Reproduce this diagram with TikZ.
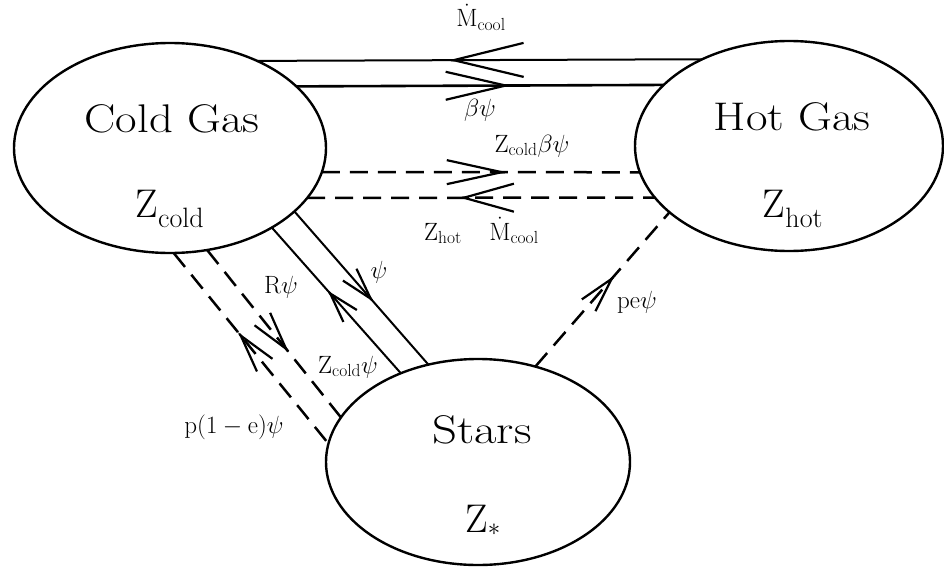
\documentclass[tikz,border=0pt]{standalone}
\usepackage{fontspec}
\usepackage{graphicx}
\usetikzlibrary{arrows.meta,calc,shapes.geometric}
\tikzset{
  ell/.style={draw, ellipse, line width=2.4pt, inner sep=0pt, outer sep=0pt},
  flow/.style={line width=2pt},
  dflow/.style={line width=2.5pt, dash pattern=on 18pt off 10pt},
  hd/.style 2 args={-{Straight Barb[length=#1pt,width=#2pt,line width=2.2pt]}, line width=2.2pt, solid},
  big/.style={anchor=base, font=\fontsize{40}{44}\selectfont, inner sep=0pt},
  lbl/.style={anchor=base, font=\fontsize{25}{28}\selectfont, inner sep=0pt},
}
\begin{document}
\begin{tikzpicture}[x=1pt,y=-1pt]
\useasboundingbox (0,0) rectangle (944,570);
% reservoirs
\node[ell, minimum width=312pt, minimum height=210pt] (cold) at (170,148) {};
\node[ell, minimum width=308pt, minimum height=210pt] (hot) at (789,146) {};
\node[ell, minimum width=304pt, minimum height=206pt] (stars) at (478,462) {};
% texts in reservoirs
\node[big] (tcold) at (172,132) {\scalebox{1.17}[1]{Cold Gas}};
\node[big] (zcold) at (170,217) {$\mathrm{Z}_{\mathrm{cold}}$};
\node[big] (thot) at (792,130) {\scalebox{1.17}[1]{Hot Gas}};
\node[big] (zhot) at (793,217) {$\mathrm{Z}_{\mathrm{hot}}$};
\node[big] (tstars) at (482,443) {\scalebox{1.22}[1]{Stars}};
\node[big] (zstars) at (483,532) {$\mathrm{Z}_{*}$};
% horizontal flows
\draw[flow] (cold.45.96) -- coordinate[pos=0.431] (t1) (hot.135.8);
\draw[hd={70}{34}] ($(t1)!2pt!(hot.135.8)$) -- (t1);
\draw[flow, line width=2.6pt] (cold.26.8) -- coordinate[pos=0.583] (t2) (hot.154.0);
\draw[hd={60}{28}] ($(t2)!2pt!(cold.26.8)$) -- (t2);
\draw[dflow] (cold.-9.4) -- coordinate[pos=0.582] (t3) (hot.190.3);
\draw[hd={55}{24}] ($(t3)!2pt!(cold.-9.4)$) -- (t3);
\draw[dflow] (cold.-20.0) -- coordinate[pos=0.439] (t4) (hot.201.2);
\draw[hd={50}{28}] ($(t4)!2pt!(hot.201.2)$) -- (t4);
% cold <-> stars
\draw[flow] (cold.-27.1) -- coordinate[pos=0.59] (ta) (stars.117.3);
\draw[hd={32}{18}] ($(ta)!2pt!(cold.-27.1)$) -- (ta);
\draw[flow] (cold.-38.5) -- coordinate[pos=0.433] (tb) (stars.131.2);
\draw[hd={30}{18}] ($(tb)!2pt!(stars.131.2)$) -- (tb);
\draw[dflow] (cold.-88.4) -- coordinate[pos=0.416] (tc) (stars.173.6);
\draw[hd={38}{20}] ($(tc)!2pt!(stars.173.6)$) -- (tc);
\draw[dflow] (cold.-70.0) -- coordinate[pos=0.61] (td) (stars.162.6);
\draw[hd={38}{20}] ($(td)!2pt!(cold.-70.0)$) -- (td);
% stars -> hot
\draw[dflow] (stars.59.6) -- coordinate[pos=0.59] (te) (hot.209.1);
\draw[hd={35}{18}] ($(te)!2pt!(stars.59.6)$) -- (te);
% flow labels
\node[lbl] (l1) at (481,27) {$\dot{\mathrm{M}}_{\mathrm{cool}}$};
\node[lbl] (l2) at (480,116) {$\beta\psi$};
\node[lbl] (l3) at (532,152) {$\mathrm{Z}_{\mathrm{cold}}\beta\psi$};
\node[lbl] (l4a) at (443,240) {$\mathrm{Z}_{\mathrm{hot}}$};
\node[lbl] (l4b) at (514,240) {$\dot{\mathrm{M}}_{\mathrm{cool}}$};
\node[lbl] (la) at (379,278) {$\psi$};
\node[lbl] (lb) at (281,293) {$\mathrm{R}\psi$};
\node[lbl] (lzc) at (348,373) {$\mathrm{Z}_{\mathrm{cold}}\psi$};
\node[lbl] (lp) at (234,433) {$\mathrm{p}(1-\mathrm{e})\psi$};
\node[lbl] (le) at (637,308) {$\mathrm{pe}\psi$};
\end{tikzpicture}
\end{document}
